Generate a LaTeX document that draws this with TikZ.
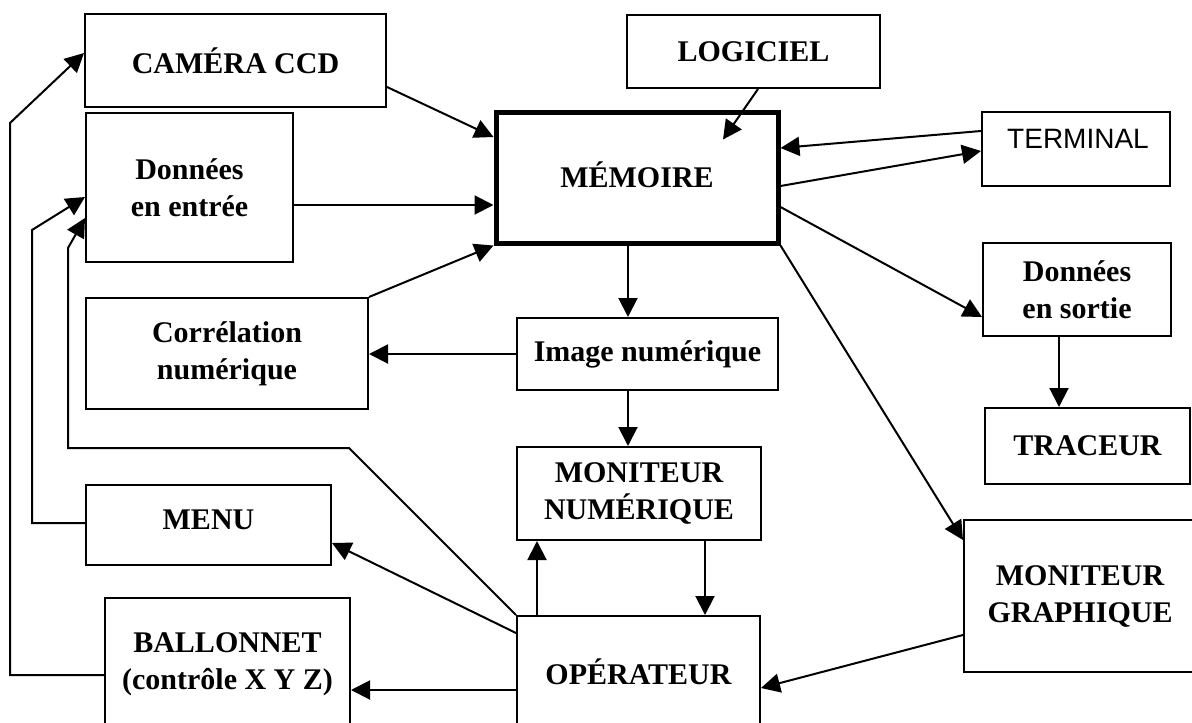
\documentclass[tikz,border=0pt]{standalone}
\usepackage{fontspec}
\setmainfont{Liberation Serif}
\newfontfamily\termfont{Liberation Sans}
\usetikzlibrary{arrows.meta}

\begin{document}
\begin{tikzpicture}[x=1pt,y=-1pt,
  box/.style={draw, line width=2pt, rectangle, inner sep=0pt, align=center,
    font=\bfseries\fontsize{30}{37}\selectfont},
  lbl/.style={inner sep=0pt, align=center, font=\bfseries\fontsize{30}{37}\selectfont},
  arr/.style={line width=2pt, -{Triangle[length=19pt,width=19pt]}},
  line join=miter]
\useasboundingbox (0,0) rectangle (1192,723);
\clip (0,0) rectangle (1192,723);

% boxes
\node[box, minimum width=301pt, minimum height=93pt]  (cam)  at (235.5,60.5) {CAMÉRA CCD};
\node[box, minimum width=253pt, minimum height=73pt]  (logi) at (753.5,51.5) {LOGICIEL};
\node[box, minimum width=207pt, minimum height=149pt] (din)  at (189.5,187.5) {Données\\en entrée};
\node[box, line width=5pt, minimum width=282pt, minimum height=131pt] (mem) at (637,177.5) {};
\node[lbl] (memT) at (637,175) {MÉMOIRE};
\node[box, minimum width=188pt, minimum height=74pt]  (term) at (1076,149) {};
\node[inner sep=0pt, font=\termfont\fontsize{28}{34}\selectfont] (termT) at (1078,139) {TERMINAL};
\node[box, minimum width=188pt, minimum height=93pt]  (dout) at (1077,289.5) {Données\\en sortie};
\node[box, minimum width=205pt, minimum height=76pt]  (trac) at (1087.5,446) {TRACEUR};
\node[box, minimum width=232pt, minimum height=152pt] (mgra) at (1080,596) {MONITEUR\\GRAPHIQUE};
\node[box, minimum width=282pt, minimum height=111pt] (corr) at (227,353.5) {Corrélation\\numérique};
\node[box, minimum width=261pt, minimum height=72pt]  (img)  at (647.5,354) {Image numérique};
\node[box, minimum width=244pt, minimum height=93pt]  (mnum) at (639,493.5) {MONITEUR\\NUMÉRIQUE};
\node[box, minimum width=245pt, minimum height=80pt]  (menu) at (208.5,525) {};
\node[lbl] (menuT) at (208.5,520) {MENU};
\node[box, minimum width=245pt, minimum height=132pt] (ball) at (227.5,664) {BALLONNET\\(contrôle X Y Z)};
\node[box, minimum width=243pt, minimum height=112pt] (oper) at (638.5,672) {OPÉRATEUR};

% connectors into and out of the memory
\draw[arr] (cam.east |- 0,87) -- (mem.west |- 0,137);
\draw[arr] (logi.south -| 758,0) -- ([xshift=86pt,yshift=-30pt]mem.north);
\draw[arr] (din.east |- 0,205) -- (mem.west |- 0,205);
\draw[arr] (corr.north east) -- (mem.south west);
\draw[arr] (term.west |- 0,131) -- (mem.east |- 0,148);
\draw[arr] (mem.east |- 0,186) -- (term.west |- 0,151);
\draw[arr] (mem.east |- 0,207) -- (dout.west |- 0,317);
\draw[arr] (mem.south east) -- (mgra.west |- 0,540);
\coordinate (vx) at (628,0);
\draw[arr] (mem.south -| vx) -- (img.north -| vx);

% image chain
\draw[arr] (img.west) -- (corr.east |- img.west);
\draw[arr] (img.south -| vx) -- (mnum.north -| vx);
\draw[arr] (dout.south -| 1059,0) -- (trac.north -| 1059,0);
\draw[arr] (mnum.south -| 705,0) -- (oper.north -| 705,0);
\draw[arr] (oper.north -| 537,0) -- (mnum.south -| 537,0);

% operator links
\draw[arr] (mgra.west |- 0,635) -- (oper.east |- 0,688);
\draw[arr] (oper.west |- 0,633) -- (menu.east |- 0,543);
\draw[arr] (oper.west |- 0,690) -- (ball.east |- 0,690);

% feedback loops on the left
\draw[arr] (ball.west |- 0,675) -| (10,123) -- (cam.west |- 0,53);
\draw[arr] (menu.west |- 0,523) -| (32,230) -- (din.west |- 0,197);
\draw[arr] (oper.north west) -- (349,448) -| (68,248) -- (din.west |- 0,218);
\end{tikzpicture}
\end{document}
